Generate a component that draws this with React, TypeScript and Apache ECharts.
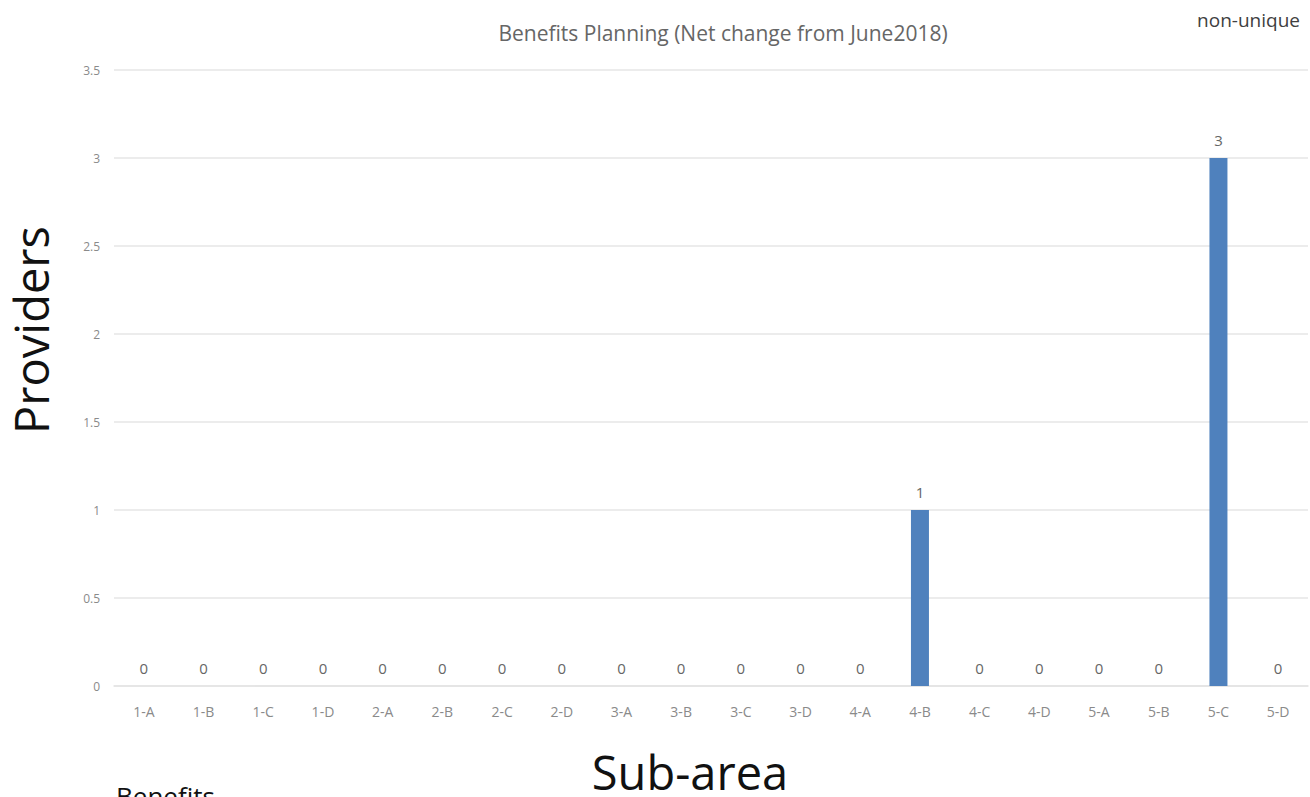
import React, { useEffect, useRef } from "react";
import * as echarts from "echarts";

const categories = ["1-A","1-B","1-C","1-D","2-A","2-B","2-C","2-D","3-A","3-B","3-C","3-D","4-A","4-B","4-C","4-D","5-A","5-B","5-C","5-D"];
const values = [0,0,0,0,0,0,0,0,0,0,0,0,0,1,0,0,0,0,3,0];
const titleText = "Benefits Planning (Net change from June2018)";

export default function App() {
  const ref = useRef<HTMLDivElement>(null);
  useEffect(() => {
    document.body.style.margin = "0";
    const chart = echarts.init(ref.current!, undefined, { renderer: "svg" });
    chart.setOption({
      animation: false,
      backgroundColor: "#ffffff",
      title: {
        text: titleText,
        left: 718,
        top: 17,
        textAlign: "center",
        textStyle: { fontFamily: "Open Sans", fontSize: 21, fontWeight: "normal", color: "#666666" },
      },
      grid: { left: 114, right: 2, top: 70, bottom: 111 },
      xAxis: {
        type: "category",
        data: categories,
        axisTick: { show: false },
        axisLine: { lineStyle: { color: "#e3e3e3", width: 1.5 } },
        axisLabel: { color: "#8a8a8a", fontSize: 14, margin: 18, fontFamily: "Open Sans" },
      },
      yAxis: {
        type: "value",
        min: 0,
        max: 3.5,
        interval: 0.5,
        axisLine: { show: false },
        axisTick: { show: false },
        splitLine: { lineStyle: { color: "#e6e6e6", width: 1.5 } },
        axisLabel: { color: "#8a8a8a", fontSize: 12, margin: 14, fontFamily: "Open Sans" },
      },
      series: [
        {
          type: "bar",
          data: values,
          barWidth: 18,
          itemStyle: { color: "#4f81bd" },
          label: {
            show: true,
            position: "top",
            distance: 11,
            color: "#666666",
            fontSize: 15,
            fontFamily: "Open Sans",
          },
        },
      ],
      graphic: [
        {
          type: "text",
          right: 10,
          top: 10,
          style: { text: "non-unique", fontFamily: "Open Sans", fontSize: 19, fill: "#404040" },
        },
        {
          type: "text",
          x: 31,
          y: 330,
          rotation: Math.PI / 2,
          style: { text: "Providers", fontFamily: "Open Sans", fontSize: 47, fill: "#111111", align: "center", verticalAlign: "middle" },
        },
        {
          type: "text",
          x: 690,
          y: 772,
          style: { text: "Sub-area", fontFamily: "Open Sans", fontSize: 47, fill: "#111111", align: "center", verticalAlign: "middle" },
        },
        {
          type: "text",
          x: 116,
          y: 783,
          style: { text: "Benefits", fontFamily: "Open Sans", fontSize: 26, fill: "#111111", align: "left", verticalAlign: "top" },
        },
      ],
    });
    return () => chart.dispose();
  }, []);
  return <div ref={ref} style={{ position: "absolute", left: 0, top: 0, width: 1310, height: 797 }} />;
}
